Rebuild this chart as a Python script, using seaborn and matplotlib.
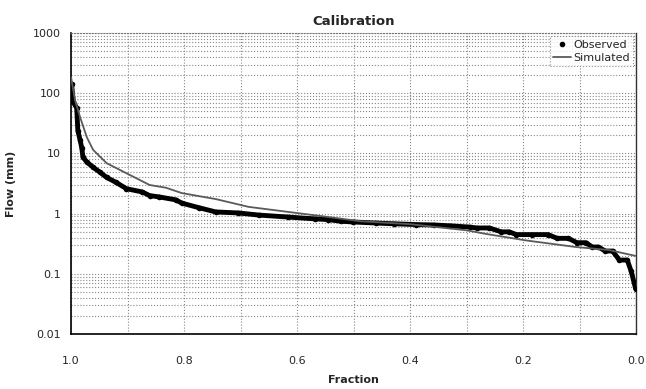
import numpy as np
import pandas as pd
import seaborn as sns
import matplotlib.pyplot as plt
from matplotlib.lines import Line2D
from matplotlib.ticker import FixedLocator, FixedFormatter, LogLocator, NullFormatter

# observed flow duration points (fraction, flow in mm)
obs_frac = [0.999, 0.996, 0.990, 0.988, 0.984, 0.981, 0.979, 0.972, 0.961, 0.949,
            0.937, 0.920, 0.902, 0.874, 0.861, 0.844, 0.815, 0.804, 0.774, 0.744,
            0.704, 0.668, 0.616, 0.568, 0.546, 0.523, 0.502, 0.460, 0.428, 0.390,
            0.358, 0.330, 0.295, 0.282, 0.260, 0.239, 0.225, 0.212, 0.185, 0.156,
            0.140, 0.120, 0.105, 0.089, 0.078, 0.067, 0.055, 0.042, 0.030, 0.016,
            0.009, 0.001]
obs_flow = [140, 71, 57, 24, 16.7, 12.3, 8.7, 7.2, 5.9, 4.9,
            4.0, 3.3, 2.6, 2.3, 2.0, 1.9, 1.7, 1.5, 1.26, 1.07,
            1.03, 0.95, 0.88, 0.82, 0.80, 0.75, 0.73, 0.70, 0.68, 0.66,
            0.65, 0.63, 0.60, 0.58, 0.58, 0.50, 0.50, 0.45, 0.45, 0.45,
            0.39, 0.39, 0.33, 0.33, 0.28, 0.28, 0.24, 0.24, 0.17, 0.17,
            0.11, 0.056]

# simulated flow duration curve
sim_frac = [1.0, 0.993, 0.984, 0.972, 0.961, 0.937, 0.902, 0.861, 0.832, 0.804,
            0.744, 0.686, 0.598, 0.540, 0.488, 0.400, 0.300, 0.265, 0.195, 0.107,
            0.049, 0.002]
sim_flow = [185, 77, 40, 18.5, 11.5, 6.9, 4.7, 3.0, 2.7, 2.2,
            1.75, 1.3, 1.02, 0.87, 0.75, 0.67, 0.53, 0.46, 0.36, 0.28,
            0.25, 0.2]

obs = pd.DataFrame({'Fraction': obs_frac, 'Flow': obs_flow})
sim = pd.DataFrame({'Fraction': sim_frac, 'Flow': sim_flow})

sns.set_style('white')
plt.rcParams['font.family'] = ['DejaVu Sans']

fig = plt.figure(figsize=(6.46, 3.89), dpi=100)
ax = fig.add_axes([0.110, 0.141, 0.875, 0.774])

# observed: dense dots forming a thick band
sns.lineplot(data=obs, x='Fraction', y='Flow', ax=ax, color='black', lw=3.5,
             marker='o', markersize=4, markeredgewidth=0, zorder=3)
sns.lineplot(data=sim, x='Fraction', y='Flow', ax=ax, color='#5a5a5a', lw=1.3, zorder=4)

ax.set_yscale('log')
ax.set_ylim(0.01, 1000)
ax.set_xlim(1.0, 0.0)

ax.yaxis.set_major_locator(FixedLocator([0.01, 0.1, 1, 10, 100, 1000]))
ax.yaxis.set_major_formatter(FixedFormatter(['0.01', '0.1', '1', '10', '100', '1000']))
ax.yaxis.set_minor_locator(LogLocator(base=10, subs=np.arange(2, 10)))
ax.yaxis.set_minor_formatter(NullFormatter())
ax.xaxis.set_major_locator(FixedLocator([1.0, 0.8, 0.6, 0.4, 0.2, 0.0]))
ax.xaxis.set_major_formatter(FixedFormatter(['1.0', '0.8', '0.6', '0.4', '0.2', '0.0']))
ax.xaxis.set_minor_locator(FixedLocator([0.9, 0.7, 0.5, 0.3, 0.1]))

ax.grid(which='both', axis='both', color='#888888', ls=':', lw=0.8)
ax.tick_params(axis='both', which='major', direction='out', length=4, width=1,
               labelsize=8, color='black')
ax.tick_params(axis='x', which='major', pad=12)
ax.tick_params(axis='y', which='minor', length=0)
ax.tick_params(axis='x', which='minor', length=0)

for side in ['left', 'bottom']:
    ax.spines[side].set_color('black')
    ax.spines[side].set_linewidth(1.2)
ax.spines['right'].set_color('#333333')
ax.spines['right'].set_linewidth(1.0)
ax.spines['top'].set_color('#777777')
ax.spines['top'].set_linestyle(':')

ax.set_title('Calibration', fontsize=9.5, fontweight='bold', pad=6)
ax.set_xlabel('Fraction', fontsize=8, fontweight='bold', labelpad=6)
ax.set_ylabel('Flow (mm)', fontsize=8, fontweight='bold', labelpad=12)

handles = [Line2D([], [], color='black', marker='o', markersize=3, ls='none'),
           Line2D([], [], color='#5a5a5a', lw=1.3)]
leg = ax.legend(handles, ['Observed', 'Simulated'], loc='upper right', fontsize=8,
                frameon=True, fancybox=False, borderpad=0.3, handlelength=1.6,
                handletextpad=0.2, labelspacing=0.3, borderaxespad=0.3)
leg.get_frame().set_edgecolor('#777777')
leg.get_frame().set_linestyle(':')
leg.get_frame().set_linewidth(0.8)

fig.savefig('out.png', dpi=100)
